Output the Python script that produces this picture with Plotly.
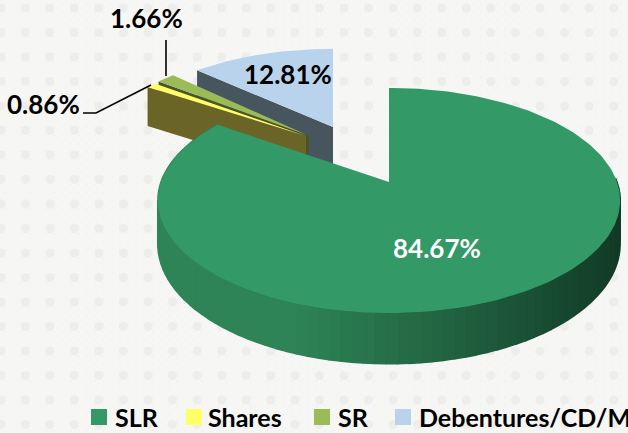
import numpy as np
import plotly.graph_objects as go

categories = ["SLR", "Shares", "SR", "Debentures/CD/M"]
values = [84.67, 0.86, 1.66, 12.81]
labels = ["84.67%", "0.86%", "1.66%", "12.81%"]
colors = ["#339966", "#FFFF66", "#9BBB59", "#B9D3EC"]
wall_colors = [None, "#6B6427", "#4A5428", "#47555E"]

# projection of each slice: apex x, apex y, x radius, y radius, depth
geom = [(389, 182, 228, 109.5, 42.5), (306, 136, 211, 94, 39), (307, 135, 207, 96, 22), (333, 127, 210, 91, 40)]
K = 0.164
W, H = 628, 433
fig = go.Figure()

# textured background
bx, by = np.meshgrid(np.arange(1, W, 24.5), np.arange(8, H, 24.5))
fig.add_trace(go.Scatter(x=bx.ravel(), y=by.ravel(), mode="markers", hoverinfo="skip",
                         marker=dict(size=9, color="#EDEDEB", line_width=0)))
sx, sy = np.meshgrid(np.arange(5, W, 8.2), np.arange(4, H, 8.2))
fig.add_trace(go.Scatter(x=sx.ravel(), y=sy.ravel(), mode="markers", hoverinfo="skip",
                         marker=dict(size=1.5, color="#EEEEE8", line_width=0)))


def proj(g, t):
    u, v = np.sin(t), np.cos(t)
    s = 1 / (1 + K * v)
    return g[0] + g[2] * u * s, g[1] - g[3] * v * s, g[4] * s / 1.0


def poly(xs, ys, color, lw=0.0):
    fig.add_trace(go.Scatter(x=xs, y=ys, mode="lines", fill="toself", fillcolor=color, hoverinfo="skip",
                             line=dict(width=lw, color=color)))


edges = np.radians(np.cumsum([0] + values) * 3.6)


def top(i):
    g = geom[i]
    t = np.linspace(edges[i], edges[i + 1], max(8, int((edges[i + 1] - edges[i]) * 40)))
    x, y, _ = proj(g, t)
    poly(np.r_[g[0], x, g[0]], np.r_[g[1], y, g[1]], colors[i])


def cut_wall(i, at):
    g = geom[i]
    x, y, d = proj(g, np.array([at]))
    poly([x[0], g[0], g[0], x[0]], [y[0], g[1], g[1] + g[4], y[0] + g[4]], wall_colors[i])


# small exploded slices, back to front
cut_wall(3, edges[3])
top(3)
cut_wall(2, edges[2])
poly([geom[2][0], geom[2][0] + 2, geom[2][0] + 2, geom[2][0]],
     [geom[2][1], geom[2][1], geom[2][1] + 24, geom[2][1] + 24], wall_colors[2])
top(2)
cut_wall(1, edges[1])
top(1)

# outer wall of the main slice, shaded from dark (right) to mid green (left)
g = geom[0]
ts = np.linspace(np.radians(88), edges[1], 90)
px, py, pd_ = proj(g, ts)
dark, mid = np.array([18, 58, 38]), np.array([46, 132, 86])
for a in range(len(ts) - 1):
    f = np.clip((620 - px[a]) / 320, 0, 1) ** 0.9
    c = (dark + (mid - dark) * f).astype(int)
    col = f"rgb({c[0]},{c[1]},{c[2]})"
    poly([px[a], px[a + 1], px[a + 1], px[a]],
         [py[a], py[a + 1], py[a + 1] + pd_[a + 1], py[a] + pd_[a]], col, 1.5)
top(0)

# leader lines
for lx, ly in (([166, 166], [40, 76]), ([83, 96, 151], [113, 113, 85])):
    fig.add_trace(go.Scatter(x=lx, y=ly, mode="lines", hoverinfo="skip", line=dict(color="black", width=1.6)))

# legend
leg_sq = [99, 194, 322, 403]
leg_tx = [113, 206, 336, 417]
fig.add_trace(go.Scatter(x=leg_sq, y=[417] * 4, mode="markers", hoverinfo="skip",
                         marker=dict(symbol="square", size=16, color=colors, line_width=0)))

FONT = "Lato"
for x, name in zip(leg_tx, categories):
    fig.add_annotation(x=x, y=417, text=f"<b>{name}</b>", showarrow=False, xanchor="left", yanchor="middle",
                       font=dict(family=FONT, size=25, color="black"))
lab_pos = [(437, 248, "white"), (43, 104, "black"), (146, 18, "black"), (288, 74, "black")]
for (x, y, c), t in zip(lab_pos, labels):
    fig.add_annotation(x=x, y=y, text=f"<b>{t}</b>", showarrow=False, font=dict(family=FONT, size=26, color=c))

fig.update_layout(width=W, height=H, margin=dict(l=0, r=0, t=0, b=0), showlegend=False,
                  paper_bgcolor="#F6F6F4", plot_bgcolor="#F6F6F4",
                  xaxis=dict(range=[0, W], visible=False, fixedrange=True),
                  yaxis=dict(range=[H, 0], visible=False, fixedrange=True))
fig.write_html("out.html", config=dict(displayModeBar=False),
               post_script="document.body.style.margin='0';document.body.style.overflow='hidden';")
